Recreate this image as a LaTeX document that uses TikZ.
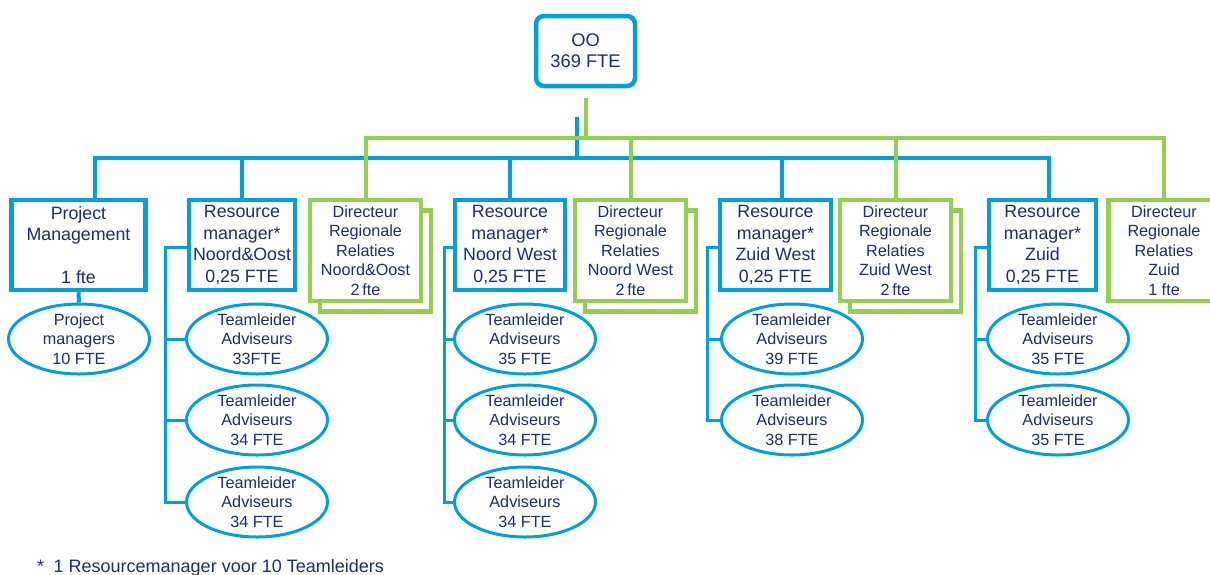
\documentclass[tikz,border=0pt]{standalone}
\usepackage{fontspec}
\setmainfont{Liberation Sans}
\usetikzlibrary{shapes.geometric}
\definecolor{orgblue}{RGB}{0,160,220}
\definecolor{orggreen}{RGB}{146,208,80}
\definecolor{navy}{RGB}{28,44,118}
\tikzset{
  bl/.style={draw=orgblue, line width=4pt},
  gl/.style={draw=orggreen, line width=4pt},
  bt/.style={draw=orgblue, line width=3pt},
  bbox/.style={draw=orgblue, line width=4.5pt, fill=white, rectangle, inner sep=0pt,
    align=center, text=navy, font=\fontsize{17.8}{21.5}\selectfont},
  gbox/.style={draw=orggreen, line width=4.5pt, fill=white, rectangle, inner sep=0pt,
    minimum width=111pt, minimum height=101pt,
    align=center, text=navy, font=\fontsize{16.2}{19.5}\selectfont},
  ell/.style={draw=orgblue, line width=3pt, fill=white, ellipse, inner sep=0pt,
    minimum width=141pt, minimum height=70pt},
  etxt/.style={inner sep=0pt, align=center, text=navy, font=\fontsize{16.2}{19.5}\selectfont},
}
\begin{document}
\begin{tikzpicture}[x=1pt, y=-1pt]
\useasboundingbox (0,0) rectangle (1210,574);
\clip (0,0) rectangle (1210,574);

% top box
\node[bbox, rounded corners=8pt, minimum width=99pt, minimum height=70pt,
  font=\fontsize{18.3}{21}\selectfont] (oo) at (585.5,51) {OO\\369 FTE};

% blue managers
\node[bbox, minimum width=134pt, minimum height=90pt] (pm) at (78.5,245)
  {Project\\Management\\\mbox{}\\1 fte};
\node[bbox, minimum width=106pt, minimum height=90pt] (rmNO) at (242,245)
  {Resource\\manager*\\Noord\&Oost\\0,25 FTE};
\node[bbox, minimum width=110pt, minimum height=90pt] (rmNW) at (510,245)
  {Resource\\manager*\\Noord West\\0,25 FTE};
\node[bbox, minimum width=111pt, minimum height=90pt] (rmZW) at (775.5,245)
  {Resource\\manager*\\Zuid West\\0,25 FTE};
\node[bbox, minimum width=107pt, minimum height=90pt] (rmZ) at (1042.5,245)
  {Resource\\manager*\\Zuid\\0,25 FTE};

% green directors, with stacked frames behind
\node[gbox] (dNOs) at (375.5,261) {};
\node[gbox] (dNO) at (365.5,250.5) {Directeur\\Regionale\\Relaties\\Noord\&Oost\\2\,fte};
\node[gbox] (dNWs) at (640.5,261) {};
\node[gbox] (dNW) at (630.5,250.5) {Directeur\\Regionale\\Relaties\\Noord West\\2\,fte};
\node[gbox] (dZWs) at (905.5,261) {};
\node[gbox] (dZW) at (895.5,250.5) {Directeur\\Regionale\\Relaties\\Zuid West\\2\,fte};
\node[gbox] (dZ) at (1164,250.5) {Directeur\\Regionale\\Relaties\\Zuid\\1 fte};

% stems below the top box
\coordinate (bs) at (577,117);
\coordinate (bj) at (577,158);
\coordinate (gs) at (586,98);
\coordinate (gj) at (586,138);

% blue bus
\draw[bl] ([xshift=16.5pt]pm.north) |- (bj) -| ([xshift=6.5pt]rmZ.north);
\draw[bl] (bs) -- (bj);
\draw[bl] (rmNO.north) -- (rmNO.north |- bj);
\draw[bl] (rmNW.north) -- (rmNW.north |- bj);
\draw[bl] ([xshift=6.5pt]rmZW.north) -- ([xshift=6.5pt]rmZW.north |- bj);

% green bus
\draw[gl] (dNO.north) |- (gj) -| (dZ.north);
\draw[gl] (gs) -- (gj);
\draw[gl] (dNW.north) -- (dNW.north |- gj);
\draw[gl] (dZW.north) -- (dZW.north |- gj);

% project managers
\node[ell] (pmE) at (79,339) {};
\node[etxt] (pmEt) at (pmE) {Project\\managers\\10 FTE};
\draw[bl] (pm.south) -- (pmE.north);

% team leaders
\node[ell] (tNO1) at (257,339) {};
\node[ell] (tNO2) at (257,420) {};
\node[ell] (tNO3) at (257,502) {};
\node[etxt] (tNO1t) at (tNO1) {Teamleider\\Adviseurs\\33FTE};
\node[etxt] (tNO2t) at (tNO2) {Teamleider\\Adviseurs\\34 FTE};
\node[etxt] (tNO3t) at (tNO3) {Teamleider\\Adviseurs\\34 FTE};

\node[ell] (tNW1) at (525,339) {};
\node[ell] (tNW2) at (525,420) {};
\node[ell] (tNW3) at (525,502) {};
\node[etxt] (tNW1t) at (tNW1) {Teamleider\\Adviseurs\\35 FTE};
\node[etxt] (tNW2t) at (tNW2) {Teamleider\\Adviseurs\\34 FTE};
\node[etxt] (tNW3t) at (tNW3) {Teamleider\\Adviseurs\\34 FTE};

\node[ell] (tZW1) at (792,339) {};
\node[ell] (tZW2) at (792,420) {};
\node[etxt] (tZW1t) at (tZW1) {Teamleider\\Adviseurs\\39 FTE};
\node[etxt] (tZW2t) at (tZW2) {Teamleider\\Adviseurs\\38 FTE};

\node[ell] (tZ1) at (1058,339) {};
\node[ell] (tZ2) at (1058,420) {};
\node[etxt] (tZ1t) at (tZ1) {Teamleider\\Adviseurs\\35 FTE};
\node[etxt] (tZ2t) at (tZ2) {Teamleider\\Adviseurs\\35 FTE};

% brackets from each resource manager to its team leaders
\coordinate (spNO) at (165,0);
\coordinate (spNW) at (444,0);
\coordinate (spZW) at (707,0);
\coordinate (spZ) at (975,0);

\draw[bt] ([yshift=-2pt]rmNO.west) -| (tNO3.west -| spNO) -- (tNO3.west);
\draw[bt] (tNO1.west -| spNO) -- (tNO1.west);
\draw[bt] (tNO2.west -| spNO) -- (tNO2.west);

\draw[bt] ([yshift=-2pt]rmNW.west) -| (tNW3.west -| spNW) -- (tNW3.west);
\draw[bt] (tNW1.west -| spNW) -- (tNW1.west);
\draw[bt] (tNW2.west -| spNW) -- (tNW2.west);

\draw[bt] ([yshift=-2pt]rmZW.west) -| (tZW2.west -| spZW) -- (tZW2.west);
\draw[bt] (tZW1.west -| spZW) -- (tZW1.west);

\draw[bt] ([yshift=-2pt]rmZ.west) -| (tZ2.west -| spZ) -- (tZ2.west);
\draw[bt] (tZ1.west -| spZ) -- (tZ1.west);

% footnote
\node[anchor=base west, inner sep=0pt, text=navy, font=\fontsize{18}{21}\selectfont]
  (note) at (37,572) {*\hspace{9.5pt}1 Resourcemanager voor 10 Teamleiders};
\end{tikzpicture}
\end{document}
